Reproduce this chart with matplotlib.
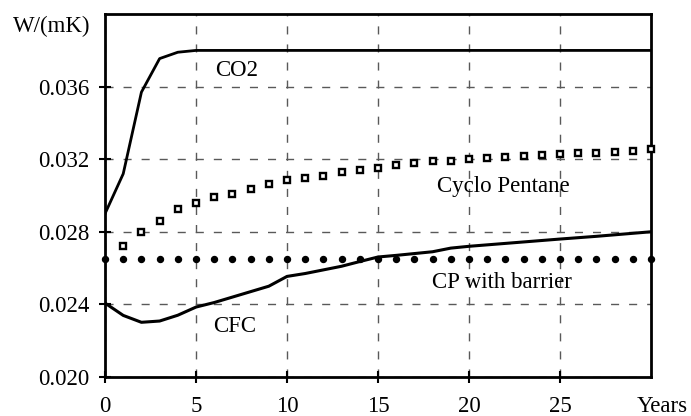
import matplotlib.pyplot as plt

plt.rcParams["font.family"] = ["Liberation Serif", "DejaVu Serif"]

# data
co2_years = [0, 1, 2, 3, 4, 5, 30]
co2_values = [0.0290, 0.0312, 0.0357, 0.03755, 0.0379, 0.0380, 0.0380]

cp_years = list(range(1, 31))
cp_values = [
    0.0272, 0.0280, 0.02862, 0.02923, 0.02961, 0.02991, 0.03011, 0.03037,
    0.03061, 0.03083, 0.03098, 0.0311, 0.03129, 0.03138, 0.03151, 0.03166,
    0.0318, 0.0319, 0.03193, 0.03202, 0.03206, 0.03212, 0.03217, 0.03221,
    0.03227, 0.03232, 0.03236, 0.03241, 0.03245, 0.03254,
]

barrier_years = list(range(0, 31))
barrier_values = [0.0265] * 31

cfc_years = [0, 1, 2, 3, 4, 5, 6, 7, 8, 9, 10, 11, 12, 13, 14, 15, 16, 17,
             18, 19, 20, 25, 27, 30]
cfc_values = [0.02407, 0.02339, 0.02301, 0.02308, 0.0234, 0.02385, 0.0241,
              0.0244, 0.0247, 0.0250, 0.02554, 0.0257, 0.0259, 0.0261,
              0.02636, 0.02661, 0.0267, 0.0268, 0.0269, 0.0271, 0.0272,
              0.0276, 0.02775, 0.0280]

x_ticks = [0, 5, 10, 15, 20, 25]
y_ticks = [0.020, 0.024, 0.028, 0.032, 0.036]

# label positions in data units
labels = [
    ("CO2", 7.25, 0.0369),
    ("Cyclo Pentane", 21.9, 0.0305),
    ("CP with barrier", 21.8, 0.0252),
    ("CFC", 7.1, 0.02276),
]

FS = 16.5

fig = plt.figure(figsize=(6.91, 4.16), dpi=100)
ax = fig.add_axes([0.152, 0.094, 0.790, 0.872])

ax.plot(co2_years, co2_values, color="black", lw=2, zorder=3)
ax.plot(cfc_years, cfc_values, color="black", lw=2.2, zorder=3)
ax.plot(cp_years, cp_values, ls="none", marker="s", ms=4.8, mfc="white",
        mec="black", mew=1.7, zorder=4, clip_on=False)
ax.plot(barrier_years, barrier_values, ls="none", marker="o", ms=4.3,
        color="black", zorder=4, clip_on=False)

ax.set_xlim(0, 30)
ax.set_ylim(0.020, 0.040)
ax.set_xticks(x_ticks)
ax.set_yticks(y_ticks)
ax.set_yticklabels([f"{v:.3f}" for v in y_ticks])
ax.tick_params(axis="both", direction="inout", length=8, width=1.5,
               labelsize=FS, colors="black")
ax.tick_params(axis="x", pad=9.5)
ax.tick_params(axis="y", pad=7)

for s in ax.spines.values():
    s.set_linewidth(2)

ax.grid(True, color="0.35", linestyle=(0, (5.8, 7.2)), lw=1)
ax.set_axisbelow(True)

for text, x, y in labels:
    ax.text(x, y, text, fontsize=FS, ha="center", va="center")

fig.text(52 / 691, 1 - 26 / 416, "W/(mK)", fontsize=FS, ha="center",
         va="center")
fig.text(1 - 3 / 691, 1 - 406 / 416, "Years", fontsize=FS, ha="right",
         va="center")

fig.savefig("out.png", dpi=100)
